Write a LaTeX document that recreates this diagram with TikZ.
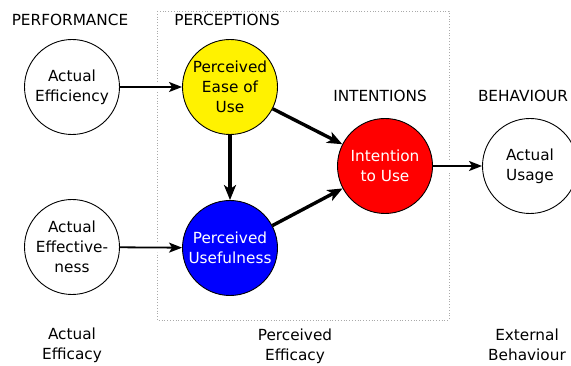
\documentclass[tikz,border=0pt]{standalone}
\usepackage{fontspec}
\setmainfont{DejaVu Sans}
\usetikzlibrary{arrows.meta}
\definecolor{boxgray}{RGB}{170,170,170}
\tikzset{
  circ/.style={circle, draw=black, line width=0.9pt, minimum size=95pt, inner sep=0pt, align=center, font=\fontsize{15.3}{20}\selectfont},
  lbl/.style={align=center, font=\fontsize{15.3}{20}\selectfont, inner sep=0pt},
  thin arrow/.style={line width=1.8pt, -{Stealth[length=13pt,width=10pt,inset=3pt]}, preaction={draw=white, line width=10pt, -, shorten <=10pt, shorten >=14pt}},
  thick arrow/.style={line width=3.4pt, -{Stealth[length=15pt,width=12pt,inset=4pt]}},
}
\begin{document}
\begin{tikzpicture}[x=1pt,y=-1pt]
\useasboundingbox (0,0) rectangle (571,366);
\fill[white] (0,0) rectangle (571,366);
% dotted box
\draw[boxgray, dotted, line width=0.8pt] (157,11) rectangle (449,320);
% nodes
\node[circ, fill=white] (ae) at (72,87) {Actual\\Efficiency};
\node[circ, fill=white] (aef) at (72,247) {Actual\\Effective-\\ness};
\node[circ, fill=yellow] (peou) at (230,87) {Perceived\\Ease of\\Use};
\node[circ, fill=blue, text=white] (pu) at (230,248) {Perceived\\Usefulness};
\node[circ, fill=red, text=white] (itu) at (385,166) {Intention\\to Use};
\node[circ, fill=white] (au) at (530,166) {Actual\\Usage};
% labels
\node[lbl] (l1) at (70,20) {PERFORMANCE};
\node[lbl] (l2) at (227,20) {PERCEPTIONS};
\node[lbl] (l3) at (380,96) {INTENTIONS};
\node[lbl] (l4) at (523,96) {BEHAVIOUR};
\node[lbl] (b1) at (72,345) {Actual\\Efficacy};
\node[lbl] (b2) at (295,346) {Perceived\\Efficacy};
\node[lbl] (b3) at (527,345) {External\\Behaviour};
% arrows
\draw[thin arrow] (ae) -- (peou);
\draw[thin arrow] (aef) -- (pu);
\draw[thin arrow] (itu) -- (au);
\draw[thick arrow] (peou) -- (pu);
\draw[thick arrow] (peou) -- (itu);
\draw[thick arrow] (pu) -- (itu);
\end{tikzpicture}
\end{document}
